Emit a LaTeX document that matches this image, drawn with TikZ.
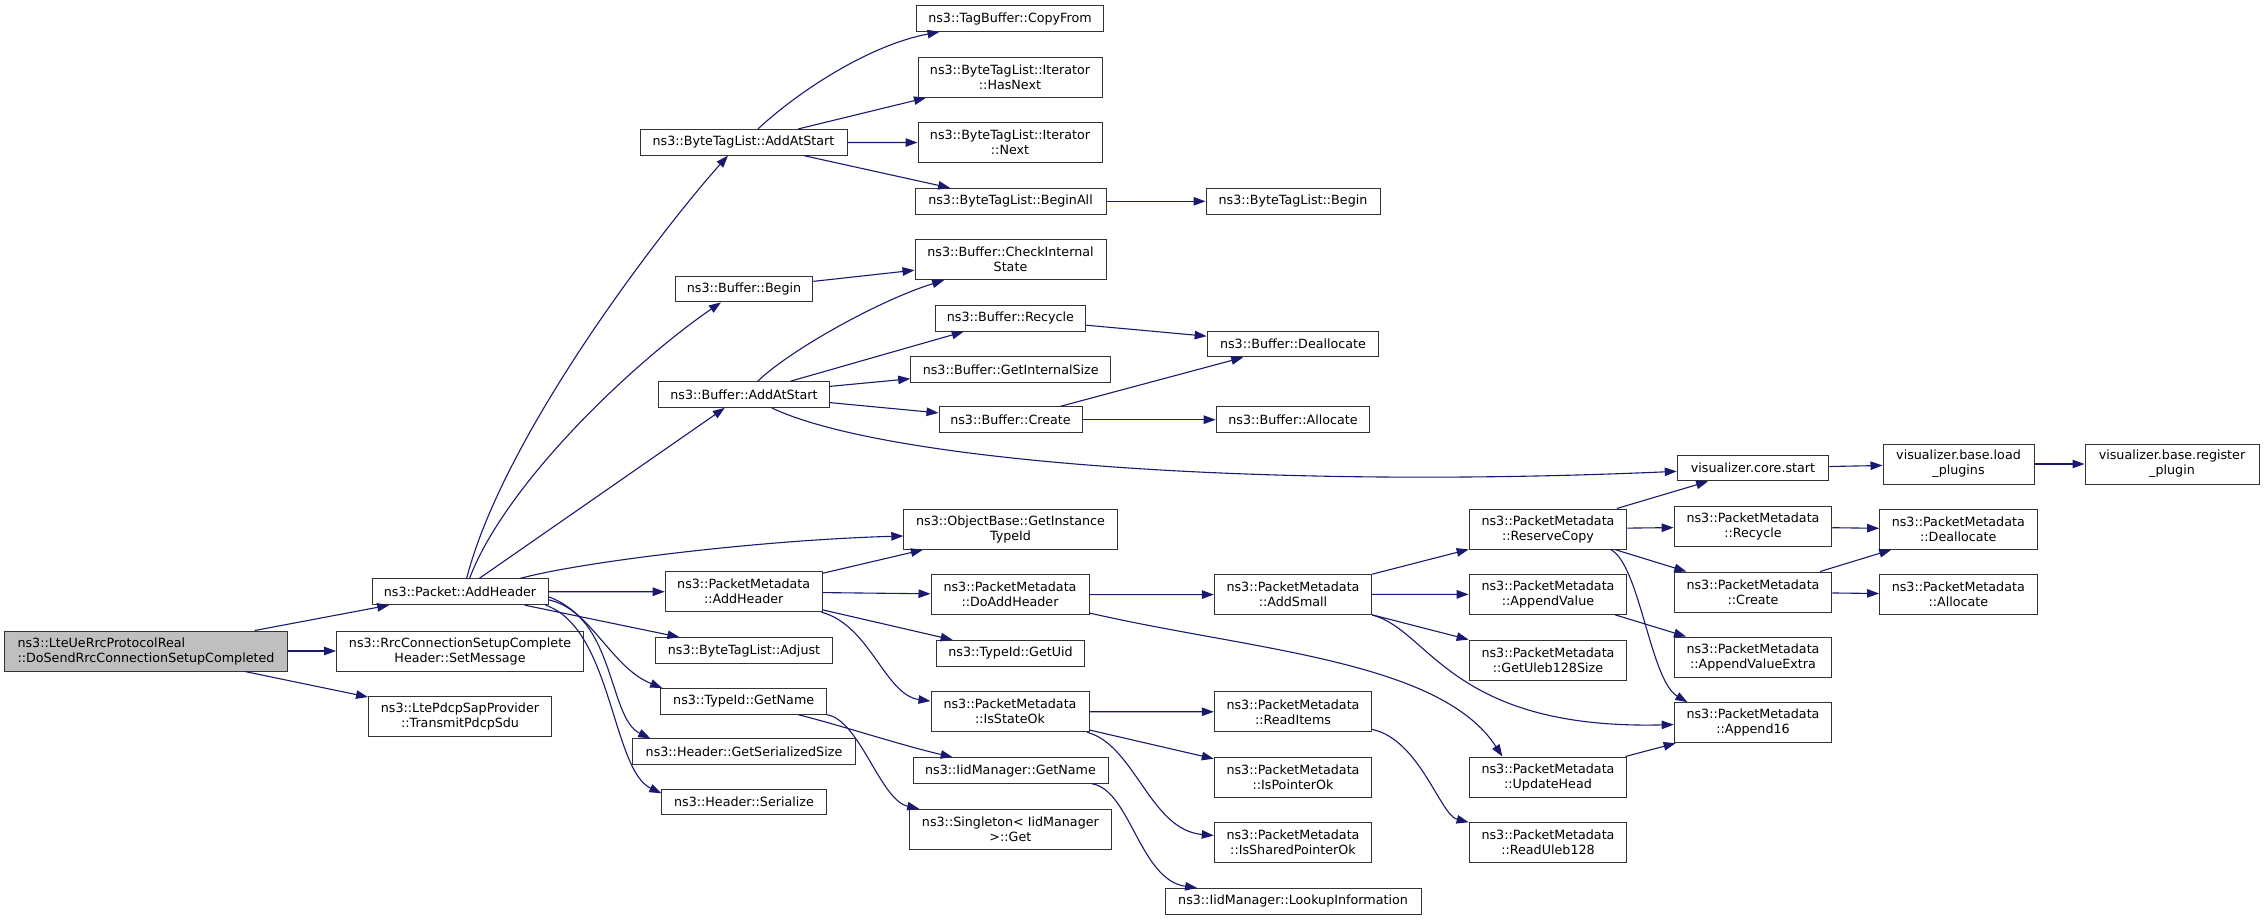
\documentclass[tikz,border=0pt]{standalone}
\usepackage{fontspec}
\setmainfont{DejaVu Sans}
\usetikzlibrary{arrows.meta,calc}
\definecolor{edgec}{HTML}{191970}
\definecolor{rootfill}{HTML}{BFBFBF}
\begin{document}
\begin{tikzpicture}[x=1pt,y=-1pt,
  box/.style={draw=black!80, line width=1pt, fill=white, rectangle, inner xsep=2pt, inner ysep=1pt,
    minimum height=25.7pt, font=\fontsize{12.7}{15}\selectfont, align=center, text=black},
  two/.style={minimum height=40pt},
  e/.style={draw=edgec, line width=1.1pt, -{Triangle[length=12pt,width=8.5pt]}},
]
\fill[white] (0,0) rectangle (2264,920);
\useasboundingbox (0,0) rectangle (2264,920);

% column 0
\node[box,two,minimum width=283pt,fill=rootfill,align=left] (dosend) at (146,651) {ns3::LteUeRrcProtocolReal\\::DoSendRrcConnectionSetupCompleted};
% column 1
\node[box,two,minimum width=247pt] (setmsg) at (460,651) {ns3::RrcConnectionSetupComplete\\Header::SetMessage};
\node[box,two,minimum width=183pt] (transmit) at (460,716) {ns3::LtePdcpSapProvider\\::TransmitPdcpSdu};
\node[box,minimum width=176pt] (pah) at (460,591.8) {ns3::Packet::AddHeader};
% column 2
\node[box,minimum width=207pt] (btladd) at (743.5,142.3) {ns3::ByteTagList::AddAtStart};
\node[box,minimum width=137.7pt] (bufbegin) at (744,289) {ns3::Buffer::Begin};
\node[box,minimum width=170.6pt] (bufadd) at (744,394.5) {ns3::Buffer::AddAtStart};
\node[box,two,minimum width=157pt] (pmaddh) at (743.7,591.7) {ns3::PacketMetadata\\::AddHeader};
\node[box,minimum width=177.6pt] (adjust) at (744,650.5) {ns3::ByteTagList::Adjust};
\node[box,minimum width=166pt] (tgn) at (743.7,701.3) {ns3::TypeId::GetName};
\node[box,minimum width=222.4pt] (gss) at (744,751.7) {ns3::Header::GetSerializedSize};
\node[box,minimum width=164.3pt] (ser) at (744,802) {ns3::Header::Serialize};
% column 3
\node[box,minimum width=187.5pt] (copyfrom) at (1010,18.5) {ns3::TagBuffer::CopyFrom};
\node[box,two,minimum width=184pt] (hasnext) at (1010,77.3) {ns3::ByteTagList::Iterator\\::HasNext};
\node[box,two,minimum width=184pt] (next) at (1010,142.7) {ns3::ByteTagList::Iterator\\::Next};
\node[box,minimum width=191pt] (beginall) at (1010.5,201.3) {ns3::ByteTagList::BeginAll};
\node[box,two,minimum width=191pt] (check) at (1010.5,259.7) {ns3::Buffer::CheckInternal\\State};
\node[box,minimum width=150.7pt] (bufrec) at (1010.4,318.3) {ns3::Buffer::Recycle};
\node[box,minimum width=200pt] (gis) at (1010.7,369.3) {ns3::Buffer::GetInternalSize};
\node[box,minimum width=143pt] (bufcreate) at (1010.5,419.7) {ns3::Buffer::Create};
\node[box,two,minimum width=213.4pt] (ogit) at (1010.5,529.3) {ns3::ObjectBase::GetInstance\\TypeId};
\node[box,two,minimum width=158pt] (doadd) at (1010,594.7) {ns3::PacketMetadata\\::DoAddHeader};
\node[box,minimum width=147.8pt] (getuid) at (1010.5,653.2) {ns3::TypeId::GetUid};
\node[box,two,minimum width=158pt] (isok) at (1010,711.7) {ns3::PacketMetadata\\::IsStateOk};
\node[box,minimum width=195pt] (iidgn) at (1010.5,770.5) {ns3::IidManager::GetName};
\node[box,two,minimum width=201.3pt] (single) at (1010.4,829.3) {ns3::Singleton< IidManager\\>::Get};
% column 4
\node[box,minimum width=174pt] (btlbegin) at (1293,201.3) {ns3::ByteTagList::Begin};
\node[box,minimum width=171.7pt] (bufdealloc) at (1293,344) {ns3::Buffer::Deallocate};
\node[box,minimum width=153.6pt] (bufalloc) at (1293,419.7) {ns3::Buffer::Allocate};
\node[box,two,minimum width=157.3pt] (addsmall) at (1293,594.5) {ns3::PacketMetadata\\::AddSmall};
\node[box,two,minimum width=157.5pt] (readitems) at (1293,711.8) {ns3::PacketMetadata\\::ReadItems};
\node[box,two,minimum width=157.5pt] (isptr) at (1293,777) {ns3::PacketMetadata\\::IsPointerOk};
\node[box,two,minimum width=157.5pt] (isshared) at (1293,842.3) {ns3::PacketMetadata\\::IsSharedPointerOk};
\node[box,minimum width=256pt] (lookup) at (1293,901.3) {ns3::IidManager::LookupInformation};
% column 5
\node[box,two,minimum width=157.7pt] (reserve) at (1548,529) {ns3::PacketMetadata\\::ReserveCopy};
\node[box,two,minimum width=157.7pt] (appval) at (1548,594.3) {ns3::PacketMetadata\\::AppendValue};
\node[box,two,minimum width=157.7pt] (uleb) at (1548,660) {ns3::PacketMetadata\\::GetUleb128Size};
\node[box,two,minimum width=157.7pt] (updhead) at (1548,777) {ns3::PacketMetadata\\::UpdateHead};
\node[box,two,minimum width=157.7pt] (readuleb) at (1548,842.3) {ns3::PacketMetadata\\::ReadUleb128};
% column 6
\node[box,minimum width=151.6pt] (corestart) at (1753,468) {visualizer.core.start};
\node[box,two,minimum width=157.7pt] (pmrec) at (1753,526.7) {ns3::PacketMetadata\\::Recycle};
\node[box,two,minimum width=157.7pt] (pmcreate) at (1753,592) {ns3::PacketMetadata\\::Create};
\node[box,two,minimum width=157.7pt] (appext) at (1753,657) {ns3::PacketMetadata\\::AppendValueExtra};
\node[box,two,minimum width=157.7pt] (app16) at (1753,722.7) {ns3::PacketMetadata\\::Append16};
% column 7
\node[box,two,minimum width=151pt] (loadpl) at (1958.5,464) {visualizer.base.load\\\_plugins};
\node[box,two,minimum width=157.5pt] (pmdealloc) at (1958.3,529.3) {ns3::PacketMetadata\\::Deallocate};
\node[box,two,minimum width=157.5pt] (pmalloc) at (1958.3,594.5) {ns3::PacketMetadata\\::Allocate};
% column 8
\node[box,two,minimum width=174pt] (regpl) at (2172,464) {visualizer.base.register\\\_plugin};

% straight edges
\draw[e] (dosend) -- (pah);
\draw[e] (dosend) -- (setmsg);
\draw[e] (dosend) -- (transmit);
\draw[e] (pah) -- (bufadd);
\draw[e] (pah) -- (pmaddh);
\draw[e] (pah) -- (adjust);
\draw[e] (btladd) -- (hasnext);
\draw[e] (btladd) -- (next);
\draw[e] (btladd) -- (beginall);
\draw[e] (beginall) -- (btlbegin);
\draw[e] (bufbegin) -- (check);
\draw[e] (bufadd) -- (bufrec);
\draw[e] (bufadd) -- (gis);
\draw[e] (bufadd) -- (bufcreate);
\draw[e] (bufrec) -- (bufdealloc);
\draw[e] (bufcreate) -- (bufdealloc);
\draw[e] (bufcreate) -- (bufalloc);
\draw[e] (pmaddh) -- (ogit);
\draw[e] (pmaddh) -- (doadd);
\draw[e] (pmaddh) -- (getuid);
\draw[e] (doadd) -- (addsmall);
\draw[e] (isok) -- (readitems);
\draw[e] (isok) -- (isptr);
\draw[e] (addsmall) -- (reserve);
\draw[e] (addsmall) -- (appval);
\draw[e] (addsmall) -- (uleb);
\draw[e] (reserve) -- (corestart);
\draw[e] (reserve) -- (pmrec);
\draw[e] (reserve) -- (pmcreate);
\draw[e] (appval) -- (appext);
\draw[e] (updhead) -- (app16);
\draw[e] (corestart) -- (loadpl);
\draw[e] (loadpl) -- (regpl);
\draw[e] (pmrec) -- (pmdealloc);
\draw[e] (pmcreate) -- (pmdealloc);
\draw[e] (pmcreate) -- (pmalloc);

% curved edges
\draw[e] ($(pah.north)+(6.6,0)$) .. controls (505,430) and (670,220) .. ($(btladd.south)+(-15.5,0)$);
\draw[e] ($(pah.north)+(9.5,0)$) .. controls (505,485) and (630,365) .. ($(bufbegin.south)+(-23,0)$);
\draw[e] ($(pah.north)+(60,0)$) .. controls (580,562) and (760,540) .. ($(ogit.west)+(0,6.7)$);
\draw[e] ($(pah.east)+(0,5)$) .. controls (592,612) and (612,668) .. ($(tgn.north west)+(2,0)$);
\draw[e] ($(pah.east)+(0,8)$) .. controls (615,615) and (608,718) .. ($(gss.north west)+(18,0)$);
\draw[e] ($(pah.south east)+(-3,0)$) .. controls (612,628) and (612,770) .. ($(ser.west)+(0,-8.7)$);
\draw[e] (btladd) .. controls (800,90) and (870,45) .. (copyfrom);
\draw[e] (bufadd) .. controls (790,350) and (880,300) .. (check);
\draw[e] (bufadd) .. controls (880,460) and (1250,490) .. (corestart);
\draw[e] (pmaddh) .. controls (870,625) and (885,695) .. (isok);
\draw[e] (tgn) .. controls (840,725) and (900,745) .. (iidgn);
\draw[e] (tgn) .. controls (860,720) and (880,800) .. (single);
\draw[e] (iidgn) .. controls (1130,790) and (1140,880) .. (lookup);
\draw[e] (doadd) .. controls (1250,650) and (1440,660) .. ($(updhead.north west)+(33.7,0)$);
\draw[e] (isok) .. controls (1135,745) and (1150,830) .. (isshared);
\draw[e] (readitems) .. controls (1420,740) and (1440,815) .. (readuleb);
\draw[e] (addsmall) .. controls (1430,630) and (1450,730) .. (app16);
\draw[e] ($(reserve.south east)+(-16.7,0)$) .. controls (1640,565) and (1650,680) .. ($(app16.north west)+(13.7,0)$);
\end{tikzpicture}
\end{document}
